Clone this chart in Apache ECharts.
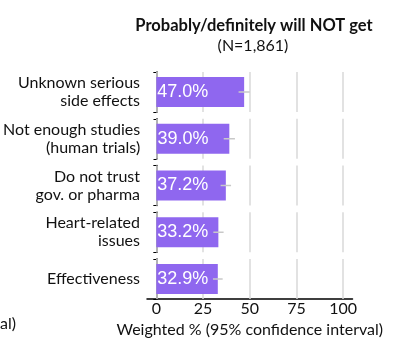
<!DOCTYPE html>
<html><head><meta charset="utf-8">
<script src="https://cdn.jsdelivr.net/npm/echarts@6/dist/echarts.min.js"></script>
<style>html,body{margin:0;padding:0;background:#fff}#c{width:400px;height:345px}</style>
</head><body><div id="c"></div>
<script>
const categories = ["Unknown serious\nside effects", "Not enough studies\n(human trials)", "Do not trust\ngov. or pharma", "Heart-related\nissues", "Effectiveness"];
const values = [47.0, 39.0, 37.2, 33.2, 32.9];
const ciLow = [44.0, 36.0, 34.4, 30.5, 30.3];
const ciHigh = [50.0, 42.0, 40.0, 36.0, 35.5];
const xTicks = [0, 25, 50, 75, 100];
const titleText = "Probably/definitely will NOT get";
const subtitleText = "(N=1,861)";
const xAxisName = "Weighted % (95% confidence interval)";

const FONT = "Lato";
const chart = echarts.init(document.getElementById('c'), null, {renderer: 'canvas'});
const grids = [], xAxes = [], yAxes = [], series = [];
const n = categories.length;
for (let i = 0; i < n; i++) {
  const last = i === n - 1;
  grids.push({left: 147, width: 205.5, top: 72 + i * 46.75, height: 40});
  xAxes.push({
    gridIndex: i, type: 'value', min: -5, max: 105,
    axisLine: {show: last, onZero: false, lineStyle: {color: '#000', width: 1.5}},
    axisTick: {show: false},
    splitLine: {show: false},
    axisLabel: {show: last, customValues: xTicks, color: '#111', fontFamily: FONT, fontSize: 16, margin: 2},
    name: last ? xAxisName : '', nameLocation: 'middle', nameGap: 23,
    nameTextStyle: {color: '#111', fontFamily: FONT, fontSize: 16}
  });
  yAxes.push({
    gridIndex: i, type: 'category', data: [categories[i]],
    axisLine: {show: true, lineStyle: {color: '#000', width: 1.5}},
    axisTick: {show: true, length: 3, lineStyle: {color: '#000', width: 1}},
    axisLabel: {color: '#111', fontFamily: FONT, fontSize: 16, lineHeight: 18, margin: 7, align: 'right'}
  });
  series.push({
    type: 'bar', xAxisIndex: i, yAxisIndex: i, data: [values[i]], barWidth: 30, z: 3,
    itemStyle: {color: '#8f67ef'},
    label: {show: true, position: 'insideLeft', distance: 1, formatter: p => p.value.toFixed(1) + '%',
      color: '#fff', fontFamily: 'Liberation Sans', fontSize: 18},
    markLine: {silent: true, symbol: 'none', z: 1, label: {show: false},
      lineStyle: {color: '#d9d9d9', width: 1.5, type: 'solid'},
      data: xTicks.map(v => ({xAxis: v}))}
  });
  series.push({
    type: 'custom', xAxisIndex: i, yAxisIndex: i, z: 4,
    data: [[ciLow[i], ciHigh[i], 0]],
    renderItem: (params, api) => {
      const a = api.coord([api.value(0), api.value(2)]);
      const b = api.coord([api.value(1), api.value(2)]);
      return {type: 'line', shape: {x1: a[0], y1: a[1], x2: b[0], y2: b[1]},
        style: {stroke: '#c8c8c8', lineWidth: 1.5}};
    }
  });
}
chart.setOption({
  animation: false,
  title: [
    {text: titleText, left: 249, top: 12, textAlign: 'center',
     textStyle: {fontFamily: FONT, fontWeight: 'bold', fontSize: 16.5, color: '#111'}},
    {text: subtitleText, left: 248, top: 33, textAlign: 'center',
     textStyle: {fontFamily: FONT, fontWeight: 'normal', fontSize: 16, color: '#111'}}
  ],
  grid: grids, xAxis: xAxes, yAxis: yAxes, series: series,
  graphic: [{type: 'text', left: 0, top: 316, style: {text: 'al)', fontFamily: FONT, fontSize: 16, fill: '#111'}}]
});
</script></body></html>
